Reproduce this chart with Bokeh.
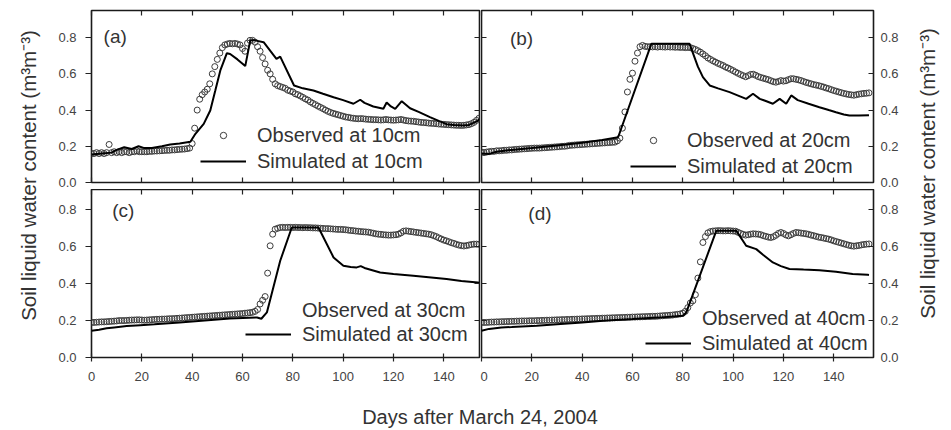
from bokeh.plotting import figure
from bokeh.models import (Range1d, LinearAxis, FixedTicker, Legend, LegendItem,
                          Label, NumeralTickFormatter)
from bokeh.layouts import row, column
from bokeh.embed import file_html
from bokeh.resources import INLINE
from bokeh.core.properties import value
import math

FONT = "Liberation Sans"

# ---------------- data ----------------
x_ticks = [0, 20, 40, 60, 80, 100, 120, 140]
y_ticks = [0.0, 0.2, 0.4, 0.6, 0.8]

obs_days = list(range(155))

obs_10 = [
    0.16, 0.16, 0.165, 0.16, 0.165, 0.16, 0.165, 0.21, 0.165, 0.17,
    0.165, 0.17, 0.165, 0.17, 0.17, 0.165, 0.17, 0.17, 0.175, 0.17,
    0.17, 0.17, 0.17, 0.172, 0.172, 0.174, 0.174, 0.175, 0.176, 0.177,
    0.178, 0.178, 0.18, 0.18, 0.182, 0.183, 0.184, 0.185, 0.187, 0.19,
    0.215, 0.30, 0.40, 0.46, 0.485, 0.50, 0.515, 0.545, 0.60, 0.64,
    0.68, 0.715, 0.745, 0.76, 0.765, 0.768, 0.766, 0.768, 0.765, 0.76,
    0.74, 0.725, 0.77, 0.785, 0.785, 0.775, 0.75, 0.725, 0.69, 0.655,
    0.62, 0.60, 0.57, 0.545, 0.535, 0.53, 0.525, 0.52, 0.51, 0.505,
    0.50, 0.49, 0.485, 0.478, 0.47, 0.462, 0.455, 0.445, 0.437, 0.43,
    0.422, 0.415, 0.408, 0.40, 0.393, 0.387, 0.382, 0.378, 0.374, 0.37,
    0.366, 0.362, 0.36, 0.357, 0.355, 0.353, 0.352, 0.353, 0.352, 0.35,
    0.349, 0.348, 0.347, 0.347, 0.346, 0.345, 0.346, 0.348, 0.346, 0.345,
    0.344, 0.345, 0.346, 0.348, 0.345, 0.342, 0.34, 0.339, 0.338, 0.336,
    0.334, 0.332, 0.331, 0.33, 0.328, 0.327, 0.326, 0.325, 0.323, 0.322,
    0.321, 0.32, 0.319, 0.318, 0.317, 0.316, 0.316, 0.315, 0.316, 0.318,
    0.32, 0.325, 0.332, 0.343, 0.355,
]

obs_20 = [
    0.168, 0.165, 0.168, 0.17, 0.172, 0.172, 0.175, 0.175, 0.176, 0.178,
    0.178, 0.18, 0.18, 0.182, 0.183, 0.184, 0.185, 0.186, 0.187, 0.188,
    0.189, 0.19, 0.19, 0.19, 0.191, 0.192, 0.193, 0.194, 0.195, 0.196,
    0.197, 0.198, 0.20, 0.20, 0.202, 0.205, 0.206, 0.207, 0.208, 0.209,
    0.21, 0.211, 0.212, 0.213, 0.214, 0.215, 0.216, 0.217, 0.218, 0.219,
    0.22, 0.221, 0.222, 0.223, 0.23, 0.245, 0.30, 0.39, 0.50, 0.57,
    0.604, 0.67, 0.715, 0.75, 0.757, 0.752, 0.75, 0.75, 0.749, 0.75,
    0.748, 0.75, 0.749, 0.748, 0.75, 0.748, 0.749, 0.747, 0.748, 0.746,
    0.747, 0.745, 0.746, 0.745, 0.74, 0.735, 0.728, 0.72, 0.71, 0.70,
    0.688, 0.68, 0.672, 0.665, 0.658, 0.652, 0.646, 0.638, 0.632, 0.625,
    0.618, 0.61, 0.603, 0.596, 0.59, 0.584, 0.59, 0.597, 0.598, 0.592,
    0.585, 0.58, 0.576, 0.572, 0.568, 0.562, 0.557, 0.554, 0.558, 0.563,
    0.56, 0.562, 0.568, 0.573, 0.573, 0.57, 0.567, 0.563, 0.558, 0.553,
    0.549, 0.545, 0.541, 0.538, 0.535, 0.531, 0.527, 0.522, 0.518, 0.513,
    0.508, 0.504, 0.50, 0.496, 0.492, 0.489, 0.486, 0.484, 0.482, 0.485,
    0.488, 0.49, 0.492, 0.493, 0.495,
]

obs_30 = [
    0.19, 0.19, 0.191, 0.192, 0.193, 0.193, 0.194, 0.195, 0.196, 0.197,
    0.198, 0.20, 0.20, 0.20, 0.201, 0.202, 0.203, 0.203, 0.204, 0.204,
    0.203, 0.202, 0.203, 0.204, 0.205, 0.206, 0.207, 0.207, 0.208, 0.208,
    0.209, 0.21, 0.21, 0.211, 0.212, 0.213, 0.214, 0.215, 0.216, 0.217,
    0.218, 0.219, 0.22, 0.221, 0.222, 0.223, 0.224, 0.225, 0.226, 0.227,
    0.228, 0.229, 0.23, 0.231, 0.232, 0.233, 0.234, 0.235, 0.236, 0.237,
    0.238, 0.24, 0.241, 0.243, 0.245, 0.25, 0.26, 0.29, 0.31, 0.33,
    0.457, 0.605, 0.668, 0.695, 0.70, 0.704, 0.705, 0.704, 0.705, 0.705,
    0.704, 0.705, 0.704, 0.704, 0.703, 0.704, 0.703, 0.703, 0.702, 0.702,
    0.701, 0.70, 0.699, 0.698, 0.698, 0.697, 0.696, 0.695, 0.694, 0.694,
    0.693, 0.692, 0.69, 0.688, 0.687, 0.685, 0.684, 0.682, 0.681, 0.68,
    0.679, 0.676, 0.673, 0.67, 0.668, 0.667, 0.665, 0.664, 0.663, 0.663,
    0.664, 0.665, 0.668, 0.675, 0.684, 0.686, 0.684, 0.682, 0.68, 0.678,
    0.676, 0.674, 0.672, 0.67, 0.668, 0.665, 0.66, 0.655, 0.648, 0.642,
    0.636, 0.632, 0.627, 0.622, 0.618, 0.613, 0.609, 0.606, 0.604, 0.606,
    0.609, 0.612, 0.614, 0.614, 0.613,
]

obs_40 = [
    0.19, 0.19, 0.19, 0.191, 0.192, 0.192, 0.193, 0.193, 0.194, 0.194,
    0.195, 0.195, 0.196, 0.196, 0.197, 0.197, 0.198, 0.198, 0.198, 0.199,
    0.199, 0.199, 0.20, 0.20, 0.201, 0.201, 0.202, 0.202, 0.203, 0.203,
    0.204, 0.204, 0.205, 0.205, 0.206, 0.206, 0.207, 0.207, 0.208, 0.208,
    0.209, 0.209, 0.21, 0.21, 0.211, 0.211, 0.212, 0.212, 0.213, 0.213,
    0.214, 0.214, 0.215, 0.215, 0.216, 0.216, 0.217, 0.217, 0.218, 0.218,
    0.219, 0.219, 0.22, 0.22, 0.221, 0.221, 0.222, 0.222, 0.223, 0.223,
    0.224, 0.225, 0.226, 0.227, 0.228, 0.229, 0.23, 0.232, 0.234, 0.236,
    0.24, 0.25, 0.27, 0.295, 0.307, 0.34, 0.43, 0.518, 0.623, 0.655,
    0.675, 0.682, 0.685, 0.686, 0.687, 0.687, 0.686, 0.686, 0.687, 0.686,
    0.685, 0.684, 0.678, 0.672, 0.667, 0.663, 0.665, 0.668, 0.67, 0.669,
    0.668, 0.665, 0.66, 0.656, 0.652, 0.65, 0.654, 0.662, 0.672, 0.677,
    0.672, 0.664, 0.659, 0.665, 0.672, 0.677, 0.676, 0.674, 0.672, 0.67,
    0.667, 0.663, 0.66, 0.656, 0.652, 0.65, 0.647, 0.644, 0.641, 0.637,
    0.632, 0.628, 0.624, 0.62, 0.616, 0.612, 0.608, 0.605, 0.603, 0.605,
    0.607, 0.61, 0.612, 0.614, 0.615,
]

sim_10_days = [0, 4, 8, 10, 13, 16, 18.7, 21, 24, 28,
               31.3, 35, 39.3, 41.3, 44.6, 47.2, 49.2, 51.2, 53.8, 55.1,
               58, 61.1, 63.1, 65, 68.4, 73.5, 75, 80.5, 84, 88.2,
               92, 96.2, 100, 104.1, 106.8, 108.5, 112, 116, 117.3, 119,
               120.7, 123.3, 126.6, 130, 134.5, 138, 141.1, 144, 147.7, 150,
               153.5, 154]
sim_10 = [0.155, 0.16, 0.165, 0.18, 0.195, 0.185, 0.2, 0.19, 0.19, 0.2,
          0.21, 0.215, 0.225, 0.269, 0.324, 0.398, 0.508, 0.619, 0.714, 0.71,
          0.68, 0.643, 0.785, 0.785, 0.775, 0.683, 0.695, 0.536, 0.52, 0.508,
          0.49, 0.471, 0.455, 0.435, 0.457, 0.44, 0.42, 0.407, 0.442, 0.42,
          0.407, 0.449, 0.41, 0.39, 0.361, 0.34, 0.322, 0.318, 0.315, 0.318,
          0.34, 0.35]

sim_20_days = [0, 3, 6, 12, 20, 30, 40, 48, 54.3, 67.5,
               82.7, 86, 88, 90.7, 94, 98.6, 102, 105.2, 107.9, 110.6,
               113, 115.8, 118.5, 121.1, 123.1, 125.7, 130, 134.3, 138, 140.9,
               144, 146.2, 150, 154]
sim_20 = [0.16, 0.158, 0.17, 0.18, 0.19, 0.205, 0.22, 0.235, 0.25, 0.766,
          0.766, 0.64, 0.582, 0.536, 0.52, 0.499, 0.48, 0.462, 0.49, 0.462,
          0.45, 0.435, 0.462, 0.435, 0.481, 0.455, 0.435, 0.416, 0.4, 0.388,
          0.376, 0.37, 0.37, 0.372]

sim_30_days = [0, 3, 6, 9, 14, 19.4, 25, 35, 45, 55,
               65.8, 67.5, 69.7, 75, 79.6, 90.2, 96.2, 100.1, 103, 105.4,
               107, 108.5, 114.7, 120, 127.9, 134, 141.1, 147, 153.5, 154]
sim_30 = [0.145, 0.15, 0.158, 0.163, 0.17, 0.175, 0.18, 0.19, 0.2, 0.211,
          0.217, 0.21, 0.244, 0.524, 0.704, 0.704, 0.542, 0.497, 0.49, 0.488,
          0.495, 0.485, 0.46, 0.452, 0.443, 0.435, 0.425, 0.415, 0.406, 0.405]

sim_40_days = [0, 3, 7.9, 12, 21.9, 30, 40, 48.3, 60, 70,
               80.1, 81.4, 93.3, 101.3, 105.2, 109.2, 112, 115.8, 119, 122.4,
               128, 134.3, 140.9, 147.5, 153.5, 154]
sim_40 = [0.145, 0.155, 0.163, 0.165, 0.172, 0.18, 0.19, 0.199, 0.208, 0.216,
          0.226, 0.244, 0.686, 0.686, 0.605, 0.587, 0.555, 0.515, 0.495, 0.479,
          0.476, 0.473, 0.465, 0.452, 0.448, 0.447]

panel_tags = ["(a)", "(b)", "(c)", "(d)"]
obs_labels = ["Observed at 10cm", "Observed at 20cm", "Observed at 30cm", "Observed at 40cm"]
sim_labels = ["Simulated at 10cm", "Simulated at 20cm", "Simulated at 30cm", "Simulated at 40cm"]
y_title = "Soil liquid water content (m\u00b3m\u207b\u00b3)"
x_title = "Days after March 24, 2004"

# ---------------- style / layout ----------------
TICK_COLOR = "#222222"
TEXT_COLOR = "#333333"
TICKLAB_COLOR = "#444444"


def add_axis(p, loc, dim, show_labels, tick_in, tick_out, standoff):
    ticks = x_ticks if dim == "x" else y_ticks
    ax = LinearAxis(ticker=FixedTicker(ticks=ticks))
    ax.axis_line_color = None
    ax.major_tick_in = tick_in
    ax.major_tick_out = tick_out
    ax.minor_tick_in = 0
    ax.minor_tick_out = 0
    ax.major_tick_line_color = TICK_COLOR
    ax.major_tick_line_width = 1.2
    ax.major_label_standoff = standoff
    if dim == "y":
        ax.formatter = NumeralTickFormatter(format="0.0")
    if show_labels:
        ax.major_label_text_font = FONT
        ax.major_label_text_font_size = "13px"
        ax.major_label_text_color = TICKLAB_COLOR
    else:
        ax.major_label_text_font_size = "0px"
        ax.major_label_text_alpha = 0
    p.add_layout(ax, loc)
    return ax


def make_panel(idx, obs, sd, sv, xmax, ymax, fw, fh, is_left, is_top,
               tag_xy, leg_xy, leg_spacing, show_obs_marker):
    p = figure(frame_width=fw, frame_height=fh, title=None,
               x_range=Range1d(0, xmax), y_range=Range1d(0, ymax),
               output_backend="svg", toolbar_location=None,
               x_axis_location=None, y_axis_location=None,
               min_border_left=46 if is_left else 1,
               min_border_right=1 if is_left else 35,
               min_border_top=10 if is_top else 0,
               min_border_bottom=7 if is_top else 30,
               background_fill_color="white", border_fill_color="white")
    p.outline_line_color = "#1a1a1a"
    p.outline_line_width = 1.6
    p.xgrid.visible = False
    p.ygrid.visible = False

    if is_left:
        add_axis(p, "left", "y", True, 0, 6, 9)
        add_axis(p, "right", "y", False, 5, 0, 0)
    else:
        add_axis(p, "left", "y", False, 5, 0, 0)
        add_axis(p, "right", "y", True, 5, 0, 7)
    add_axis(p, "above", "x", False, 5, 0, 0)
    if is_top:
        add_axis(p, "below", "x", False, 5, 0, 0)
    else:
        add_axis(p, "below", "x", True, 4, 4, 10)

    obs_r = p.scatter(obs_days, obs, marker="circle", size=6,
                      fill_color=None, line_color="#3c3c3c", line_width=1)
    sim_r = p.line(sd, sv, line_color="black", line_width=2)

    if show_obs_marker:
        leg_obs_r = obs_r
    else:
        leg_obs_r = p.scatter([], [], marker="circle", size=6,
                              fill_alpha=0, line_alpha=0)

    tag = Label(x=tag_xy[0], y=tag_xy[1], text=panel_tags[idx],
                text_font=FONT, text_font_size="19px", text_color=TEXT_COLOR,
                text_baseline="top", text_align="left")
    p.add_layout(tag)

    leg = Legend(items=[LegendItem(label=value(obs_labels[idx]), renderers=[leg_obs_r]),
                        LegendItem(label=value(sim_labels[idx]), renderers=[sim_r])],
                 location=leg_xy)
    leg.background_fill_alpha = 0
    leg.border_line_alpha = 0
    leg.padding = 0
    leg.margin = 0
    leg.spacing = leg_spacing
    leg.glyph_width = 46
    leg.glyph_height = 16
    leg.label_height = 20
    leg.label_standoff = 11
    leg.label_text_font = FONT
    leg.label_text_font_size = "20px"
    leg.label_text_color = TEXT_COLOR
    p.add_layout(leg)
    return p


pa = make_panel(0, obs_10, sim_10_days, sim_10, 154.2, 0.95, 388, 172, True, True,
                (4.8, 0.862), (109, 9.5), 3, True)
pb = make_panel(1, obs_20, sim_20_days, sim_20, 155.8, 0.95, 392, 172, False, True,
                (11.3, 0.853), (149, 4.5), 3, True)
pc = make_panel(2, obs_30, sim_30_days, sim_30, 154.2, 0.91, 388, 168, True, False,
                (8.2, 0.855), (154, 11.5), 1, False)
pd = make_panel(3, obs_40, sim_40_days, sim_40, 155.8, 0.91, 392, 168, False, False,
                (18.6, 0.835), (164, 2.5), 2, False)


def text_fig(w, h, tx, ty, text, angle, align, baseline, size):
    f = figure(width=w, height=h, title=None,
               x_range=Range1d(0, w), y_range=Range1d(0, h),
               output_backend="svg", toolbar_location=None,
               x_axis_location=None, y_axis_location=None, min_border=0,
               outline_line_color=None)
    f.xgrid.visible = False
    f.ygrid.visible = False
    f.text(x=[tx], y=[ty], text=[text], angle=angle,
           text_font=value(FONT), text_font_size=size, text_color=TEXT_COLOR,
           text_align=align, text_baseline=baseline)
    return f


ylab_l = text_fig(45, 387, 28, 212, y_title, math.pi / 2, "center", "middle", "20.5px")
ylab_r = text_fig(42, 387, 19, 214, y_title, math.pi / 2, "center", "middle", "20.5px")
xlab = text_fig(950, 42, 479.5, 2, x_title, 0, "center", "bottom", "20px")

grid = column(row(pa, pb), row(pc, pd))
layout = column(row(ylab_l, grid, ylab_r), xlab)

open("out.html", "w").write(file_html(layout, INLINE))
